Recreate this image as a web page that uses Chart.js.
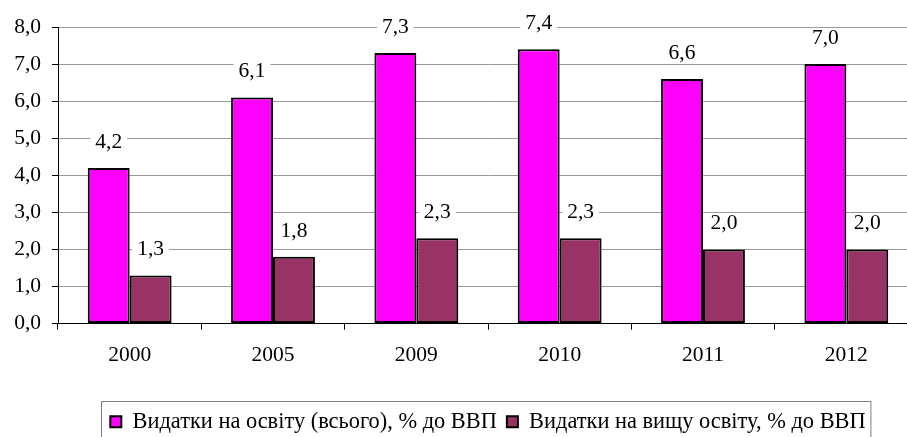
<!DOCTYPE html>
<html>
<head>
<meta charset="utf-8">
<script src="https://cdn.jsdelivr.net/npm/chart.js@4"></script>
<style>
  html, body { margin: 0; padding: 0; background: #fff; overflow: hidden; }
  #wrap { width: 918px; height: 443px; }
</style>
</head>
<body>
<div id="wrap"><canvas id="chart"></canvas></div>
<script>
// data
const years = ['2000', '2005', '2009', '2010', '2011', '2012'];
const totalEdu = [4.2, 6.1, 7.3, 7.4, 6.6, 7.0];
const higherEdu = [1.3, 1.8, 2.3, 2.3, 2.0, 2.0];
const seriesNames = ['Видатки на освіту (всього), % до ВВП', 'Видатки на вищу освіту, % до ВВП'];

const FONT = "'Liberation Serif', 'DejaVu Serif', serif";
Chart.defaults.font.family = FONT;

function fmt(v) {
    return v.toFixed(1).replace('.', ',');
}

// value labels above the bars, white box behind them
const barLabels = {
    id: 'barLabels',
    afterDatasetsDraw(chart) {
        const ctx = chart.ctx;
        ctx.save();
        ctx.font = "21.5px 'Liberation Serif', serif";
        ctx.textAlign = 'center';
        ctx.textBaseline = 'middle';
        chart.data.datasets.forEach((ds, i) => {
            chart.getDatasetMeta(i).data.forEach((bar, j) => {
                const txt = fmt(ds.data[j]);
                const w = ctx.measureText(txt).width + 10;
                const y = bar.y - 26;
                ctx.fillStyle = '#fff';
                ctx.fillRect(bar.x - w / 2, y - 10, w, 20);
                ctx.fillStyle = '#000';
                ctx.fillText(txt, bar.x, y);
            });
        });
        ctx.restore();
    }
};

// legend sits centred under the plot area, not the whole canvas
const legendShift = {
    id: 'legendShift',
    afterLayout(chart) {
        const area = chart.chartArea;
        const dx = (area.left + area.right) / 2 - chart.width / 2;
        chart.legend.left += dx;
        chart.legend.right += dx;
    }
};

// frame round the legend
const legendFrame = {
    id: 'legendFrame',
    afterDraw(chart) {
        const boxes = chart.legend.legendHitBoxes;
        if (!boxes || !boxes.length) return;
        const first = boxes[0];
        const last = boxes[boxes.length - 1];
        const ctx = chart.ctx;
        ctx.save();
        ctx.strokeStyle = '#808080';
        ctx.lineWidth = 1;
        ctx.strokeRect(Math.round(first.left) - 8.5, Math.round(first.top) - 9.5, last.left + last.width - first.left + 14, 80);
        ctx.restore();
    }
};

const ctx = document.getElementById('chart').getContext('2d');
const chart = new Chart(ctx, {
    type: 'bar',
    data: {
        labels: years,
        datasets: [{
            label: seriesNames[0],
            data: totalEdu,
            backgroundColor: '#FF00FF',
            borderColor: '#000',
            borderWidth: 2,
            borderSkipped: false,
            categoryPercentage: 0.585,
            barPercentage: 1
        }, {
            label: seriesNames[1],
            data: higherEdu,
            backgroundColor: '#993366',
            borderColor: '#000',
            borderWidth: 2,
            borderSkipped: false,
            categoryPercentage: 0.585,
            barPercentage: 1
        }]
    },
    options: {
        responsive: true,
        maintainAspectRatio: false,
        animation: false,
        layout: { padding: { top: 27, right: 0, left: 0, bottom: 0 } },
        scales: {
            x: {
                grid: {
                    offset: true,
                    drawOnChartArea: false,
                    tickLength: 6,
                    tickColor: '#000'
                },
                border: { color: '#000', width: 1 },
                ticks: {
                    color: '#000',
                    padding: 13,
                    font: { family: FONT, size: 21.5 }
                },
                afterFit(scale) { scale.height = 77; }
            },
            y: {
                min: 0,
                max: 8,
                ticks: {
                    stepSize: 1,
                    color: '#000',
                    padding: 11,
                    font: { family: FONT, size: 21.5 },
                    callback: v => fmt(v)
                },
                grid: {
                    color: '#999',
                    tickLength: 6,
                    tickColor: '#000'
                },
                border: { color: '#000', width: 1 },
                afterFit(scale) { scale.width = 58; }
            }
        },
        plugins: {
            legend: {
                position: 'bottom',
                labels: {
                    boxWidth: 11,
                    boxHeight: 11,
                    padding: 10,
                    color: '#000',
                    font: { family: FONT, size: 22.4 }
                }
            },
            tooltip: { enabled: false }
        }
    },
    plugins: [barLabels, legendShift, legendFrame]
});
</script>
</body>
</html>
